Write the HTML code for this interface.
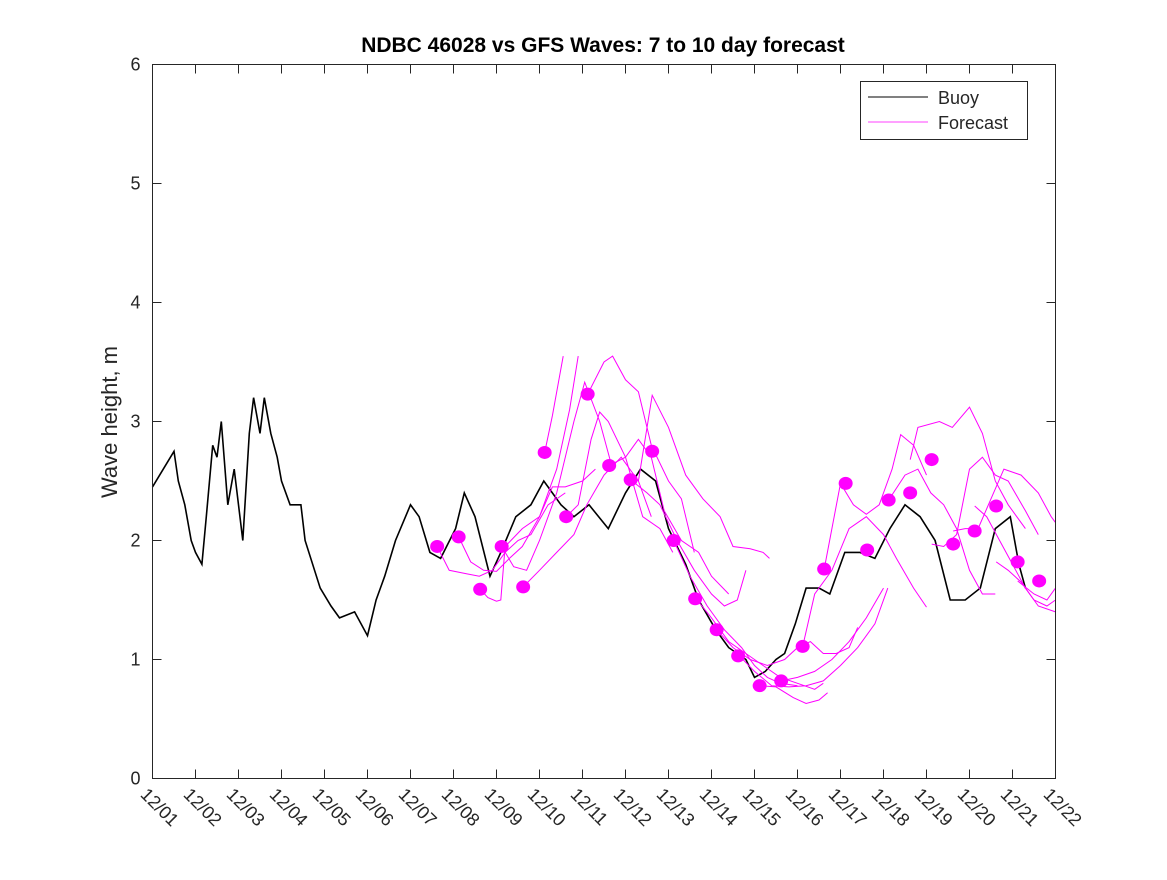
<!DOCTYPE html>
<html><head><meta charset="utf-8"><style>
body{margin:0;background:#fff;}
svg text{font-family:"Liberation Sans",sans-serif;fill:#262626;}
</style></head><body>
<svg id="chart" width="1167" height="875" viewBox="0 0 1167 875">
<rect x="0" y="0" width="1167" height="875" fill="#fff"/>
<text x="603" y="52" text-anchor="middle" font-size="21" font-weight="bold" style="fill:#000">NDBC 46028 vs GFS Waves: 7 to 10 day forecast</text>
<text transform="translate(117,422) rotate(-90)" text-anchor="middle" font-size="22">Wave height, m</text>
<g id="axes"></g>
<g id="buoy"></g>
<g id="fc"></g>
<g id="dots"></g>
<rect x="152.5" y="64.5" width="903" height="714" fill="none" stroke="#262626" stroke-width="1"/>
<g>
<rect x="860.5" y="81.5" width="167" height="58" fill="#fff" stroke="#262626"/>
<line x1="868" y1="97" x2="928" y2="97" stroke="#000"/>
<text x="938" y="104" font-size="18">Buoy</text>
<line x1="868" y1="122" x2="928" y2="122" stroke="#f0f" stroke-width="0.8"/>
<text x="938" y="129" font-size="18">Forecast</text>
</g>
</svg>
<script>
const xTickLabels=["12/01","12/02","12/03","12/04","12/05","12/06","12/07","12/08","12/09","12/10","12/11","12/12","12/13","12/14","12/15","12/16","12/17","12/18","12/19","12/20","12/21","12/22"];
const yTicks=[0,1,2,3,4,5,6];
const buoyDays=[0,0.25,0.5,0.6,0.75,0.9,1.0,1.15,1.25,1.4,1.5,1.6,1.75,1.9,2.0,2.1,2.25,2.35,2.5,2.6,2.75,2.9,3.0,3.2,3.45,3.55,3.9,4.15,4.35,4.7,5.0,5.2,5.4,5.65,6.0,6.2,6.45,6.7,7.05,7.25,7.5,7.85,8.1,8.45,8.8,9.1,9.5,9.8,10.15,10.6,11.0,11.35,11.7,12.0,12.4,12.7,13.1,13.4,13.8,14.0,14.25,14.5,14.7,14.95,15.2,15.5,15.75,16.1,16.45,16.8,17.15,17.5,17.85,18.2,18.55,18.9,19.25,19.6,19.95,20.15,20.3];
const buoyVals=[2.45,2.6,2.75,2.5,2.3,2.0,1.9,1.8,2.2,2.8,2.7,3.0,2.3,2.6,2.3,2.0,2.9,3.2,2.9,3.2,2.9,2.7,2.5,2.3,2.3,2.0,1.6,1.45,1.35,1.4,1.2,1.5,1.7,2.0,2.3,2.2,1.9,1.85,2.1,2.4,2.2,1.7,1.9,2.2,2.3,2.5,2.3,2.2,2.3,2.1,2.4,2.6,2.5,2.1,1.8,1.5,1.25,1.1,1.0,0.85,0.9,1.0,1.05,1.3,1.6,1.6,1.55,1.9,1.9,1.85,2.1,2.3,2.2,2.0,1.5,1.5,1.6,2.1,2.2,1.8,1.6];
const dotStart=6.62, dotStep=0.5;
const dotVals=[1.95,2.03,1.59,1.95,1.61,2.74,2.20,3.23,2.63,2.51,2.75,2.0,1.51,1.25,1.03,0.78,0.82,1.11,1.76,2.48,1.92,2.34,2.40,2.68,1.97,2.08,2.29,1.82,1.66];
const fcLines=[
[[6.62,1.95],[6.9,1.75],[7.3,1.72],[7.6,1.7],[7.9,1.75],[8.2,1.9],[8.5,2.0],[8.8,2.05],[9.2,2.3],[9.6,2.4]],
[[7.12,2.03],[7.4,1.82],[7.7,1.75],[8.0,1.74],[8.3,1.85],[8.6,1.95],[9.0,2.2],[9.4,2.6],[9.7,3.1],[9.9,3.55]],
[[7.62,1.59],[7.8,1.52],[8.0,1.49],[8.1,1.5],[8.2,1.95],[8.6,2.1],[9.0,2.2],[9.3,2.45],[9.6,2.45],[10.0,2.5],[10.3,2.6]],
[[8.12,1.95],[8.4,1.78],[8.7,1.75],[9.0,2.0],[9.4,2.4],[9.8,3.0],[10.05,3.33],[10.4,3.0],[10.7,2.6]],
[[8.62,1.61],[9.0,1.75],[9.4,1.9],[9.8,2.05],[10.1,2.3],[10.5,2.55],[10.9,2.7],[11.3,2.5],[11.6,2.2]],
[[9.12,2.74],[9.3,3.05],[9.55,3.55]],
[[9.62,2.20],[9.9,2.3],[10.2,2.85],[10.4,3.08],[10.6,3.0],[11.0,2.7],[11.4,2.2],[11.8,2.1],[12.1,1.9]],
[[10.12,3.23],[10.5,3.5],[10.7,3.55],[11.0,3.35],[11.3,3.25],[11.6,2.8],[12.0,2.5],[12.3,2.35],[12.6,1.9]],
[[10.62,2.63],[11.0,2.7],[11.3,2.85],[11.6,2.7],[11.9,2.25],[12.3,2.0],[12.7,1.9],[13.0,1.7],[13.4,1.55]],
[[11.12,2.51],[11.5,2.4],[11.8,2.3],[12.2,2.0],[12.6,1.75],[13.0,1.55],[13.3,1.45],[13.6,1.5],[13.8,1.75]],
[[11.3,2.5],[11.62,3.22],[12.0,2.95],[12.4,2.55],[12.8,2.35],[13.2,2.2],[13.5,1.95],[13.9,1.93],[14.2,1.9],[14.35,1.85]],
[[12.12,2.0],[12.5,1.7],[12.9,1.45],[13.3,1.25],[13.7,1.1],[14.0,0.95],[14.3,0.85],[14.6,0.8],[15.0,0.78]],
[[12.62,1.52],[13.0,1.35],[13.4,1.15],[13.8,1.05],[14.2,0.95],[14.6,0.85],[15.0,0.8],[15.4,0.75],[15.6,0.8]],
[[13.12,1.25],[13.5,1.1],[13.9,1.0],[14.3,0.95],[14.7,1.0],[15.0,1.1],[15.3,1.15],[15.6,1.05],[15.9,1.05],[16.2,1.1],[16.4,1.27]],
[[13.62,1.04],[14.0,0.9],[14.4,0.78],[14.8,0.77],[15.2,0.78],[15.6,0.82],[16.0,0.95],[16.4,1.1],[16.8,1.3],[17.1,1.6]],
[[14.12,0.78],[14.5,0.77],[14.9,0.68],[15.2,0.63],[15.5,0.66],[15.7,0.72]],
[[14.62,0.82],[15.0,0.85],[15.4,0.9],[15.8,1.0],[16.2,1.15],[16.6,1.35],[17.0,1.6]],
[[15.12,1.11],[15.4,1.55],[15.8,1.75],[16.2,2.1],[16.6,2.2],[17.0,2.05],[17.3,1.85],[17.7,1.6],[18.0,1.44]],
[[15.62,1.76],[16.0,2.48],[16.3,2.3],[16.6,2.22],[16.9,2.3],[17.2,2.6],[17.4,2.89],[17.7,2.8],[18.0,2.55]],
[[17.12,2.34],[17.5,2.55],[17.8,2.6],[18.1,2.4],[18.4,2.3],[18.7,2.1],[19.0,1.75],[19.3,1.55],[19.6,1.55]],
[[17.62,2.68],[17.8,2.95],[18.3,3.0],[18.6,2.95],[19.0,3.12],[19.3,2.9],[19.6,2.5],[19.9,2.3],[20.3,2.1]],
[[18.12,1.97],[18.4,1.95],[18.7,2.05],[19.0,2.6],[19.3,2.7],[19.6,2.55],[19.9,2.5],[20.3,2.25],[20.6,2.05]],
[[18.62,2.08],[18.9,2.1],[19.2,2.1],[19.5,2.35],[19.8,2.6],[20.2,2.55],[20.6,2.4],[20.9,2.2],[21.0,2.15]],
[[19.12,2.29],[19.4,2.2],[19.7,2.0],[20.0,1.8],[20.3,1.6],[20.6,1.45],[21.0,1.4]],
[[19.62,1.82],[19.9,1.75],[20.2,1.65],[20.5,1.5],[20.8,1.45],[21.0,1.5]],
[[20.12,1.66],[20.5,1.55],[20.8,1.5],[21.0,1.6]]
];
const NS='http://www.w3.org/2000/svg';
const X0=152.5,X1=1055.5,Y0=778.5,Y1=64.5;
function xs(d){return X0+(X1-X0)*d/21;}
function ys(v){return Y0-(Y0-Y1)*v/6;}
function mk(tag,attrs,parent){const e=document.createElementNS(NS,tag);for(const k in attrs)e.setAttribute(k,attrs[k]);parent.appendChild(e);return e;}
const axes=document.getElementById('axes');
xTickLabels.forEach((lab,i)=>{
  const x=xs(i);
  const t1=mk('line',{x1:x,y1:Y0,x2:x,y2:Y0-9,stroke:'#262626'},axes);
  
  
  const t2=mk('line',{x1:x,y1:Y1,x2:x,y2:Y1+9,stroke:'#262626'},axes);
  
  
  const tx=mk('text',{x:0,y:0,'font-size':18,transform:`translate(${x-13},${Y0+17}) rotate(45)`},axes);
  tx.textContent=lab;
  
  
});
yTicks.forEach(v=>{
  const y=ys(v);
  const t1=mk('line',{x1:X0,y1:y,x2:X0+9,y2:y,stroke:'#262626'},axes);
  
  
  const t2=mk('line',{x1:X1,y1:y,x2:X1-9,y2:y,stroke:'#262626'},axes);
  
  
  const tx=mk('text',{x:X0-12,y:y+6,'font-size':18,'text-anchor':'end'},axes);
  tx.textContent=v;
  
  
});
const buoyPts=buoyDays.map((d,i)=>xs(d).toFixed(1)+','+ys(buoyVals[i]).toFixed(1)).join(' ');
const bl=mk('polyline',{points:buoyPts,fill:'none',stroke:'#000','stroke-width':1.6},document.getElementById('buoy'));


const fg=document.getElementById('fc');
fcLines.forEach(line=>{
  const p=line.map(q=>xs(q[0]).toFixed(1)+','+ys(q[1]).toFixed(1)).join(' ');
  const pl=mk('polyline',{points:p,fill:'none',stroke:'#f0f','stroke-width':1},fg);
  
  
});
const dg=document.getElementById('dots');
dotVals.forEach((v,i)=>{
  const c=mk('ellipse',{cx:xs(dotStart+i*dotStep),cy:ys(v),rx:7,ry:6.5,fill:'#f0f'},dg);
  
  
});
</script>
</body></html>
